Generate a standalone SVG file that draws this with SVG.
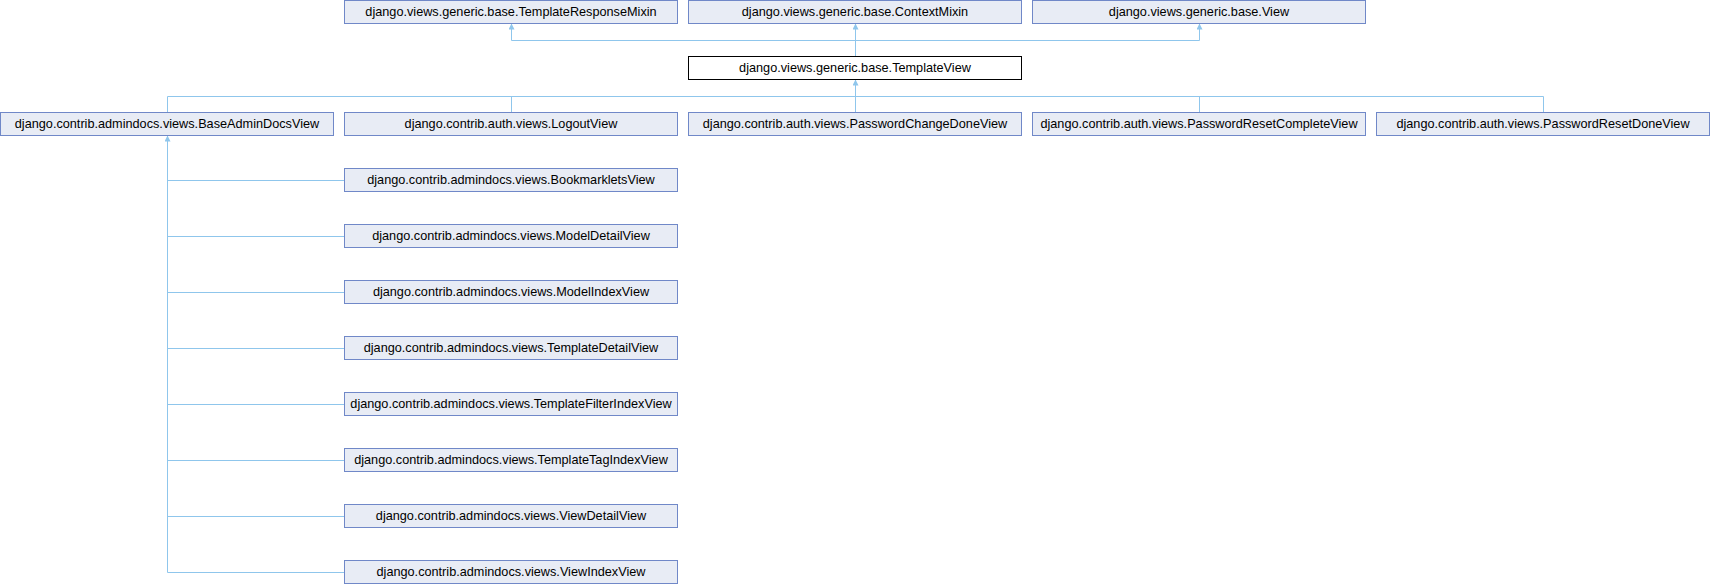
<svg xmlns="http://www.w3.org/2000/svg" width="1710" height="584" viewBox="0 0 1710 584">
<style>
.n rect{fill:#e8ecf5;stroke:#7088c8;stroke-width:1}
.n.cur rect{fill:#ffffff;stroke:#000000}
.n text{font-family:"Liberation Sans",Arial,sans-serif;font-size:12.7px;text-anchor:middle;fill:#000000}
.e path{fill:none;stroke:#8fc6ec;stroke-width:1}
</style>
<defs>
<marker id="ah" markerUnits="userSpaceOnUse" markerWidth="7" markerHeight="7" refX="6" refY="3" orient="auto">
<path d="M0,0 L6,3 L0,6 z" fill="#8fc6ec"/>
</marker>
</defs>
<rect width="1710" height="584" fill="#ffffff"/>
<g id="connectors" class="e">
<path d="M511.5,40.5 H1199.5"/>
<path d="M855.5,56.5 V40.5"/>
<path d="M511.5,40.5 V23.5" marker-end="url(#ah)"/>
<path d="M855.5,40.5 V23.5" marker-end="url(#ah)"/>
<path d="M1199.5,40.5 V23.5" marker-end="url(#ah)"/>
<path d="M167.5,96.5 H1543.5"/>
<path d="M167.5,112.5 V96.5"/>
<path d="M511.5,112.5 V96.5"/>
<path d="M855.5,112.5 V96.5"/>
<path d="M1199.5,112.5 V96.5"/>
<path d="M1543.5,112.5 V96.5"/>
<path d="M855.5,96.5 V79.5" marker-end="url(#ah)"/>
<path d="M167.5,572.5 V135.5" marker-end="url(#ah)"/>
<path d="M167.5,180.5 H344.5"/>
<path d="M167.5,236.5 H344.5"/>
<path d="M167.5,292.5 H344.5"/>
<path d="M167.5,348.5 H344.5"/>
<path d="M167.5,404.5 H344.5"/>
<path d="M167.5,460.5 H344.5"/>
<path d="M167.5,516.5 H344.5"/>
<path d="M167.5,572.5 H344.5"/>
</g>
<g id="TemplateResponseMixin" class="n"><rect x="344.5" y="0.5" width="333" height="23"/><text x="511" y="15.8">django.views.generic.base.TemplateResponseMixin</text></g>
<g id="ContextMixin" class="n"><rect x="688.5" y="0.5" width="333" height="23"/><text x="855" y="15.8">django.views.generic.base.ContextMixin</text></g>
<g id="View" class="n"><rect x="1032.5" y="0.5" width="333" height="23"/><text x="1199" y="15.8">django.views.generic.base.View</text></g>
<g id="TemplateView" class="n cur"><rect x="688.5" y="56.5" width="333" height="23"/><text x="855" y="71.8">django.views.generic.base.TemplateView</text></g>
<g id="BaseAdminDocsView" class="n"><rect x="0.5" y="112.5" width="333" height="23"/><text x="167" y="127.8">django.contrib.admindocs.views.BaseAdminDocsView</text></g>
<g id="LogoutView" class="n"><rect x="344.5" y="112.5" width="333" height="23"/><text x="511" y="127.8">django.contrib.auth.views.LogoutView</text></g>
<g id="PasswordChangeDoneView" class="n"><rect x="688.5" y="112.5" width="333" height="23"/><text x="855" y="127.8">django.contrib.auth.views.PasswordChangeDoneView</text></g>
<g id="PasswordResetCompleteView" class="n"><rect x="1032.5" y="112.5" width="333" height="23"/><text x="1199" y="127.8">django.contrib.auth.views.PasswordResetCompleteView</text></g>
<g id="PasswordResetDoneView" class="n"><rect x="1376.5" y="112.5" width="333" height="23"/><text x="1543" y="127.8">django.contrib.auth.views.PasswordResetDoneView</text></g>
<g id="BookmarkletsView" class="n"><rect x="344.5" y="168.5" width="333" height="23"/><text x="511" y="183.8">django.contrib.admindocs.views.BookmarkletsView</text></g>
<g id="ModelDetailView" class="n"><rect x="344.5" y="224.5" width="333" height="23"/><text x="511" y="239.8">django.contrib.admindocs.views.ModelDetailView</text></g>
<g id="ModelIndexView" class="n"><rect x="344.5" y="280.5" width="333" height="23"/><text x="511" y="295.8">django.contrib.admindocs.views.ModelIndexView</text></g>
<g id="TemplateDetailView" class="n"><rect x="344.5" y="336.5" width="333" height="23"/><text x="511" y="351.8">django.contrib.admindocs.views.TemplateDetailView</text></g>
<g id="TemplateFilterIndexView" class="n"><rect x="344.5" y="392.5" width="333" height="23"/><text x="511" y="407.8">django.contrib.admindocs.views.TemplateFilterIndexView</text></g>
<g id="TemplateTagIndexView" class="n"><rect x="344.5" y="448.5" width="333" height="23"/><text x="511" y="463.8">django.contrib.admindocs.views.TemplateTagIndexView</text></g>
<g id="ViewDetailView" class="n"><rect x="344.5" y="504.5" width="333" height="23"/><text x="511" y="519.8">django.contrib.admindocs.views.ViewDetailView</text></g>
<g id="ViewIndexView" class="n"><rect x="344.5" y="560.5" width="333" height="23"/><text x="511" y="575.8">django.contrib.admindocs.views.ViewIndexView</text></g>
</svg>
